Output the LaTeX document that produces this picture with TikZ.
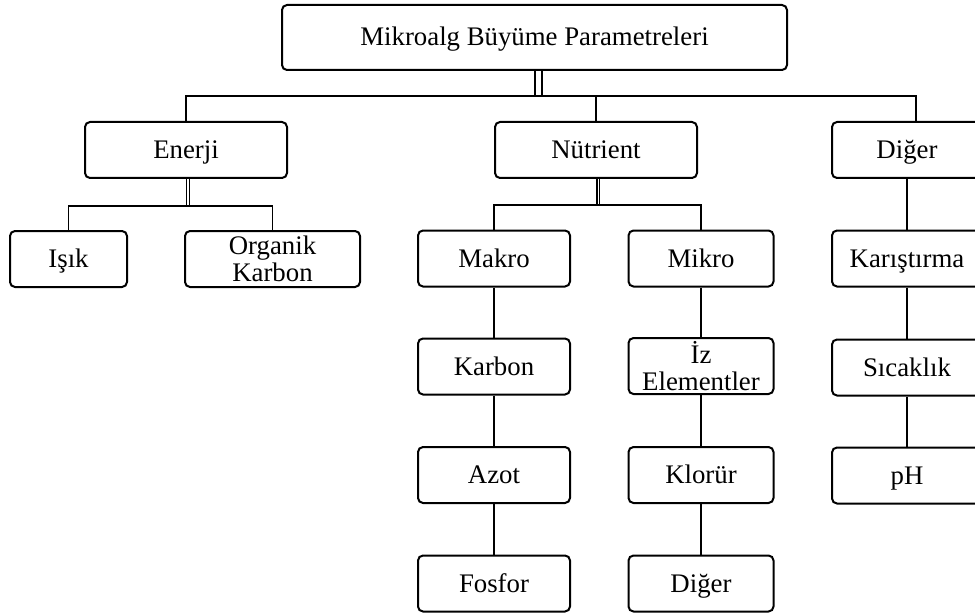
\documentclass[tikz,border=0pt]{standalone}
\usepackage{fontspec}
\setmainfont{Liberation Serif}
\begin{document}
\begin{tikzpicture}[x=1pt,y=-1pt,
  box/.style={draw=black,line width=2pt,rounded corners=5pt,inner sep=0pt,align=center,
    font=\fontsize{26.8}{27}\selectfont,minimum height=56pt},
  one/.style={box,text height=22pt,text depth=5pt},
  conn/.style={line width=1.6pt,draw=black}]
\clip (0,0) rectangle (975,615);
\fill[white] (0,0) rectangle (975,615);
% nodes
\node[one,minimum width=505pt,minimum height=65pt] (top) at (534.5,37.5) {Mikroalg Büyüme Parametreleri};
\node[one,minimum width=202pt] (enerji) at (186,150) {Enerji};
\node[one,minimum width=202pt] (nutrient) at (596,150) {Nütrient};
\node[one,minimum width=150pt] (diger) at (907,150) {Diğer};
\node[one,minimum width=117pt] (isik) at (68.5,259) {Işık};
\node[box,minimum width=175pt] (organik) at (272.5,259) {Organik\\Karbon};
\node[one,minimum width=152pt] (makro) at (494,258.5) {Makro};
\node[one,minimum width=145pt] (mikro) at (701,258.5) {Mikro};
\node[one,minimum width=150pt] (karis) at (907,258.5) {Karıştırma};
\node[one,minimum width=152pt] (karbon) at (494,366.5) {Karbon};
\node[one,minimum width=152pt] (azot) at (494,475) {Azot};
\node[one,minimum width=152pt] (fosfor) at (494,583.5) {Fosfor};
\node[box,minimum width=145pt] (izel) at (701,366) {İz\\Elementler};
\node[one,minimum width=145pt] (klorur) at (701,475) {Klorür};
\node[one,minimum width=145pt] (diger2) at (701,583.5) {Diğer};
\node[one,minimum width=150pt] (sicak) at (907,367.5) {Sıcaklık};
\node[one,minimum width=150pt] (ph) at (907,475.5) {pH};
% bus coordinates
\coordinate (bus0) at (538,96);
\coordinate (bus1) at (188,206);
\coordinate (bus2) at (598,205);
% top level
\draw[line width=2pt,double=white,double distance=5pt] (top.south -| bus0) -- (bus0);
\draw[conn] (enerji.north -| 186,0) -- (186,96) -- (916,96) -- (diger.north -| 916,0);
\draw[conn] (bus0 -| nutrient.north) -- (nutrient.north);
% Enerji
\draw[line width=1.5pt,double=white,double distance=1.5pt] (enerji.south -| bus1) -- (bus1);
\draw[conn] (isik.north) -- (isik.north |- bus1) -- (organik.north |- bus1) -- (organik.north);
% Nutrient
\draw[line width=1.2pt,double=white,double distance=0.8pt] (nutrient.south -| bus2) -- (bus2);
\draw[conn] (makro.north) -- (makro.north |- bus2) -- (mikro.north |- bus2) -- (mikro.north);
% columns
\draw[conn] (makro) -- (karbon) (karbon) -- (azot) (azot) -- (fosfor);
\draw[conn] (mikro) -- (izel) (izel) -- (klorur) (klorur) -- (diger2);
\draw[conn] (diger) -- (karis) (karis) -- (sicak) (sicak) -- (ph);
\end{tikzpicture}
\end{document}
